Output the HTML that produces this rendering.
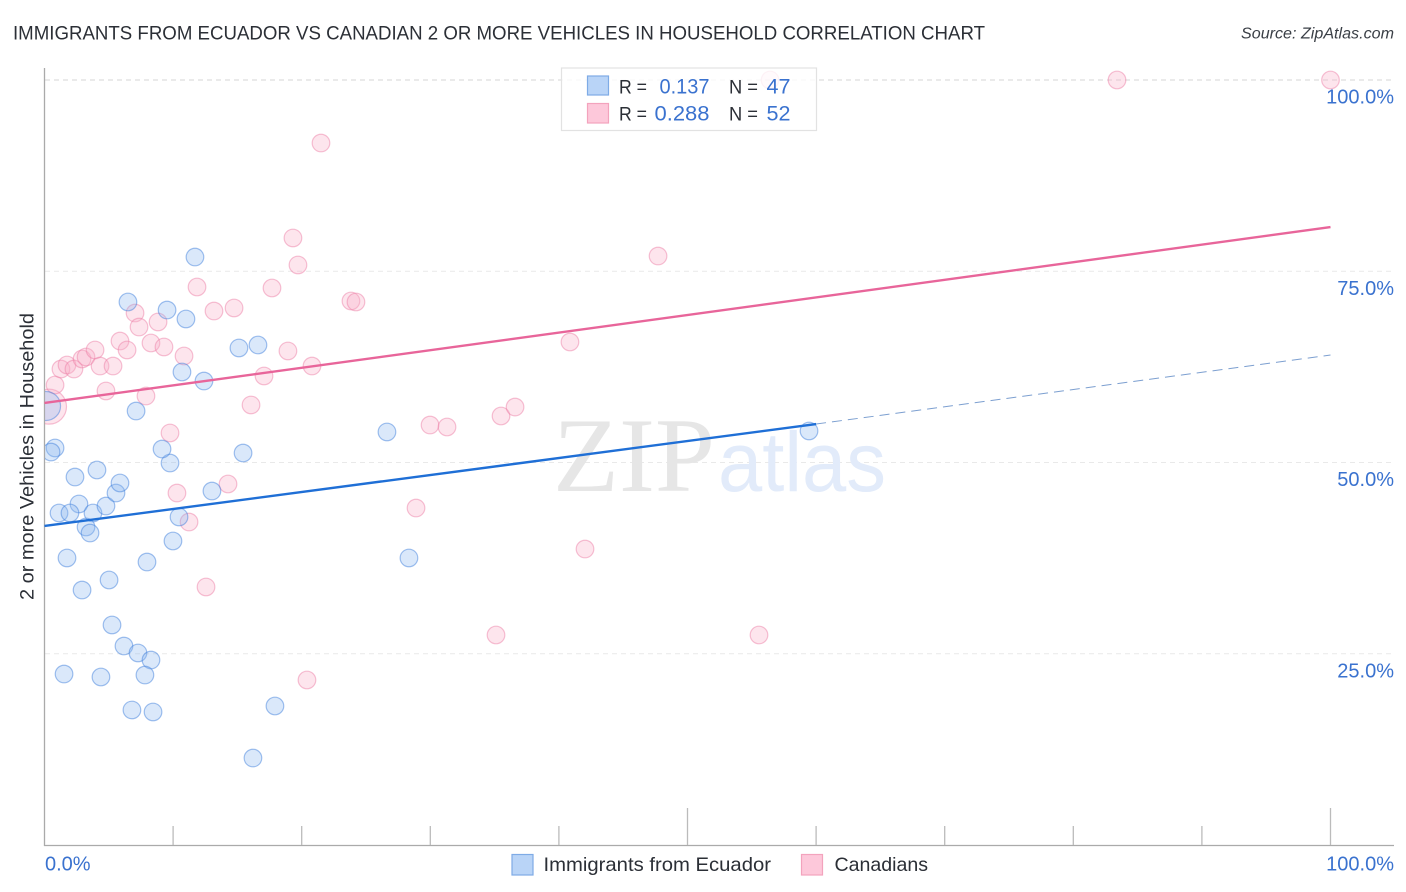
<!DOCTYPE html>
<html lang="en">
<head>
<meta charset="utf-8">
<title>Immigrants from Ecuador vs Canadian 2 or more Vehicles in Household Correlation Chart</title>
<style>
html,body{margin:0;padding:0;background:#fff;}
body{width:1406px;height:892px;overflow:hidden;}
svg{display:block;font-family:"Liberation Sans",sans-serif;}
</style>
</head>
<body>
<svg id="chart" width="1406" height="892" viewBox="0 0 1406 892" xmlns="http://www.w3.org/2000/svg">
  <defs><clipPath id="plot-clip"><rect x="45" y="60" width="1361" height="786"></rect></clipPath></defs>
  <rect x="0" y="0" width="1406" height="892" fill="#ffffff"></rect>
  <text x="13" y="39.5" font-size="19.5" fill="#2b2f36" textLength="972" lengthAdjust="spacingAndGlyphs">IMMIGRANTS FROM ECUADOR VS CANADIAN 2 OR MORE VEHICLES IN HOUSEHOLD CORRELATION CHART</text>
  <text x="1394" y="38.5" font-size="15.5" font-style="italic" fill="#3a3f46" text-anchor="end" textLength="153" lengthAdjust="spacingAndGlyphs">Source: ZipAtlas.com</text>
  <g id="grid"></g>
  <text x="553" y="491" font-family="'Liberation Serif',serif" font-size="106" fill="#e6e6e6" textLength="162" lengthAdjust="spacingAndGlyphs">ZIP</text>
  <text x="718" y="491" font-size="84" fill="#e2ebfa" textLength="168" lengthAdjust="spacingAndGlyphs">atlas</text>
  <g id="axes"></g>
  <g id="series" clip-path="url(#plot-clip)"></g>
  <g id="trends"></g>
  <g id="tick-labels"></g>
  <text transform="translate(33.5,456.5) rotate(-90)" font-size="19.5" fill="#2b2f36" text-anchor="middle" textLength="287" lengthAdjust="spacingAndGlyphs">2 or more Vehicles in Household</text>

  <g>
    <rect x="561.5" y="68" width="255" height="62.5" fill="#ffffff" fill-opacity="0.8" stroke="#e2e2e2" stroke-width="1.2"></rect>
    <rect x="587.5" y="76" width="21" height="19" fill="#b9d4f7" stroke="#7eabe6" stroke-width="1.2"></rect>
    <rect x="587.5" y="103.5" width="21" height="19.5" fill="#fdc8da" stroke="#f3a3bd" stroke-width="1.2"></rect>
    <text x="619" y="93.5" font-size="19.5" fill="#2b2f36" textLength="28" lengthAdjust="spacingAndGlyphs">R =</text>
    <text x="709.5" y="93.5" font-size="21.5" fill="#3a72cf" text-anchor="end" textLength="50" lengthAdjust="spacingAndGlyphs">0.137</text>
    <text x="729" y="93.5" font-size="19.5" fill="#2b2f36" textLength="29" lengthAdjust="spacingAndGlyphs">N =</text>
    <text x="790.5" y="93.5" font-size="21.5" fill="#3a72cf" text-anchor="end" textLength="24" lengthAdjust="spacingAndGlyphs">47</text>
    <text x="619" y="120.5" font-size="19.5" fill="#2b2f36" textLength="28" lengthAdjust="spacingAndGlyphs">R =</text>
    <text x="709.5" y="120.5" font-size="21.5" fill="#3a72cf" text-anchor="end" textLength="55" lengthAdjust="spacingAndGlyphs">0.288</text>
    <text x="729" y="120.5" font-size="19.5" fill="#2b2f36" textLength="29" lengthAdjust="spacingAndGlyphs">N =</text>
    <text x="790.5" y="120.5" font-size="21.5" fill="#3a72cf" text-anchor="end" textLength="24" lengthAdjust="spacingAndGlyphs">52</text>
  </g>

  <g>
    <rect x="512" y="854.5" width="21" height="20.5" fill="#b9d4f7" stroke="#7eabe6" stroke-width="1.2"></rect>
    <text x="543.5" y="871" font-size="19.5" fill="#2b2f36" textLength="227.5" lengthAdjust="spacingAndGlyphs">Immigrants from Ecuador</text>
    <rect x="801.5" y="854.5" width="21" height="20.5" fill="#fdc8da" stroke="#f3a3bd" stroke-width="1.2"></rect>
    <text x="834.5" y="871" font-size="19.5" fill="#2b2f36" textLength="93.5" lengthAdjust="spacingAndGlyphs">Canadians</text>
  </g>
</svg>
<script>
const yTicks = [25, 50, 75, 100];
const xTicks = [0, 10, 20, 30, 40, 50, 60, 70, 80, 90, 100];
const xMajorTicks = [50, 100];
const yTickLabels = ["25.0%", "50.0%", "75.0%", "100.0%"];
const xTickValues = [0, 100];
const xTickLabels = ["0.0%", "100.0%"];

const ecuadorX = [0.12,0.82,0.51,2.37,4.08,2.68,1.13,1.98,3.77,4.78,5.56,5.87,3.23,3.54,1.75,5.02,2.92,7.97,9.99,10.46,13.02,9.76,9.14,15.44,7.12,12.40,10.69,15.12,16.60,11.00,9.53,6.49,11.70,26.63,28.34,59.45,5.25,6.18,7.27,8.28,7.81,4.39,1.52,6.80,8.44,17.92,16.21];
const ecuadorY = [57.39,51.90,51.37,48.10,49.02,44.58,43.40,43.40,43.40,44.31,46.01,47.32,41.57,40.78,37.52,34.64,33.33,36.99,39.74,42.88,46.27,49.93,51.76,51.24,56.73,60.65,61.83,64.97,65.36,68.76,69.93,70.98,76.86,53.99,37.52,54.12,28.76,26.01,25.10,24.18,22.22,21.96,22.35,17.65,17.39,18.17,11.37];
const canadiansX = [0.35,0.82,1.28,1.75,2.29,2.92,3.23,3.93,4.32,4.78,5.33,5.87,6.42,7.04,7.35,7.89,8.28,8.83,9.29,9.76,10.30,10.85,11.24,11.86,12.56,13.18,14.27,14.74,16.06,17.07,17.69,18.93,19.32,19.71,20.41,20.80,21.50,23.83,24.22,28.89,29.98,31.30,35.11,35.50,36.59,40.86,42.03,47.71,55.56,56.42,83.40,100];
const canadiansY = [57.30,60.13,62.22,62.75,62.22,63.53,63.79,64.71,62.61,59.35,62.61,65.88,64.71,69.54,67.71,58.69,65.62,68.37,65.10,53.86,46.01,63.92,42.22,72.94,33.73,69.80,47.19,70.20,57.52,61.31,72.81,64.58,79.35,75.82,21.57,62.61,91.76,71.11,70.98,44.05,54.90,54.64,27.45,56.08,57.25,65.75,38.69,76.99,27.45,100,100,100];

const ecuadorTrendX = [0, 60];
const ecuadorTrendY = [41.7, 55.03];
const ecuadorForecastX = [60, 100];
const ecuadorForecastY = [55.03, 64.05];
const canadiansTrendX = [0, 100];
const canadiansTrendY = [57.78, 80.78];

const NS = 'http://www.w3.org/2000/svg';
function xScale(v) { return 44.5 + v * 12.86; }
function yScale(v) { return 845 - v * 7.65; }
function make(parent, tag, attrs) {
  const el = document.createElementNS(NS, tag);
  for (const k in attrs) el.setAttribute(k, attrs[k]);
  parent.appendChild(el);
  return el;
}

const gridG = document.getElementById('grid');
yTicks.forEach(function (t) {
  const line = make(gridG, 'line', {x1: 45, x2: 1394, y1: yScale(t), y2: yScale(t), stroke: t === 100 ? '#d6d6d6' : '#e9e9e9', 'stroke-width': 1, 'stroke-dasharray': '5 4'});
  
  
});

const axesG = document.getElementById('axes');
const yAxisLine = make(axesG, 'line', {x1: 44.5, x2: 44.5, y1: 68, y2: 846, stroke: '#aaaaaa', 'stroke-width': 1.3});


const xAxisLine = make(axesG, 'line', {x1: 44, x2: 1394, y1: 845.5, y2: 845.5, stroke: '#aaaaaa', 'stroke-width': 1.3});


xTicks.forEach(function (t) {
  if (t === 0) return;
  const top = xMajorTicks.indexOf(t) >= 0 ? 808 : 826;
  const tick = make(axesG, 'line', {x1: xScale(t), x2: xScale(t), y1: top, y2: 845, stroke: '#bbbbbb', 'stroke-width': 1.3});
  
  
});

function drawSeries(name, xs, ys, fill, stroke, bigR) {
  const g = make(document.getElementById('series'), 'g', {});
  
  
  xs.forEach(function (x, i) {
    const c = make(g, 'circle', {cx: xScale(x), cy: yScale(ys[i]), r: i === 0 ? bigR : 8.8, fill: fill, stroke: stroke, 'stroke-width': 1.2});
    
    
  });
}
drawSeries('canadians', canadiansX, canadiansY, 'rgba(250,175,200,0.32)', 'rgba(236,125,165,0.48)', 17.5);
drawSeries('ecuador', ecuadorX, ecuadorY, 'rgba(140,185,240,0.32)', 'rgba(60,125,220,0.48)', 14.5);

function drawTrend(name, xs, ys, color, width, dash) {
  const attrs = {x1: xScale(xs[0]), y1: yScale(ys[0]), x2: xScale(xs[1]), y2: yScale(ys[1]), stroke: color, 'stroke-width': width};
  if (dash) attrs['stroke-dasharray'] = dash;
  const l = make(document.getElementById('trends'), 'line', attrs);
  
  
}
drawTrend('ecuador-trend-forecast', ecuadorForecastX, ecuadorForecastY, '#7c9fd0', 1, '10 6');
drawTrend('ecuador-trend-line', ecuadorTrendX, ecuadorTrendY, '#1f6fd6', 2.4);
drawTrend('canadians-trend-line', canadiansTrendX, canadiansTrendY, '#e8659a', 2.4);

const labelsG = document.getElementById('tick-labels');
yTicks.forEach(function (t, i) {
  const tx = make(labelsG, 'text', {x: 1394, y: yScale(t) + 23.5, 'font-size': 20, fill: '#3a72cf', 'text-anchor': 'end'});
  
  
  tx.textContent = yTickLabels[i];
});
xTickValues.forEach(function (t, i) {
  const first = i === 0;
  const tx = make(labelsG, 'text', {x: first ? 45 : 1394, y: 870.5, 'font-size': 20, fill: '#3a72cf', 'text-anchor': first ? 'start' : 'end'});
  
  
  tx.textContent = xTickLabels[i];
});
</script>
</body>
</html>
